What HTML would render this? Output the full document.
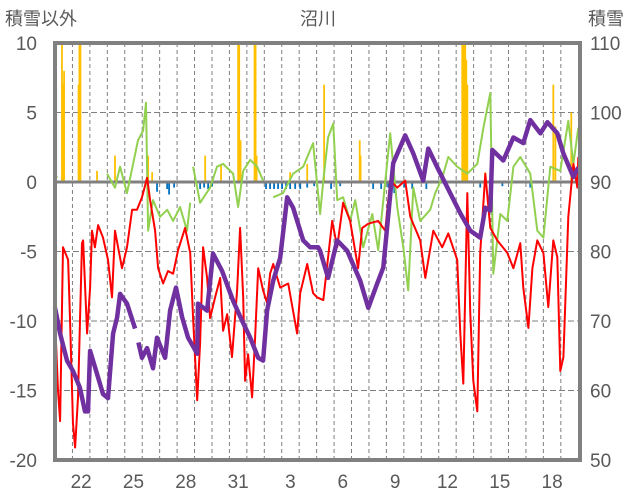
<!DOCTYPE html>
<html><head><meta charset="utf-8">
<style>
html,body{margin:0;padding:0;background:#fff;}
svg{display:block;font-family:"Liberation Sans","Noto Sans CJK JP",sans-serif;}
</style></head>
<body>
<svg id="chart" width="636" height="501" viewBox="0 0 636 501" xmlns="http://www.w3.org/2000/svg">
<text x="5" y="25" font-size="18" fill="#595959">積雪以外</text>
<text x="318" y="25" font-size="18" fill="#595959" text-anchor="middle">沼川</text>
<text x="588" y="25" font-size="18" fill="#595959">積雪</text>
<g id="grid"></g>
<g id="bars"></g>
<line id="zero" stroke="#808080" stroke-width="3"/>
<g id="lines"></g>
<rect x="55" y="43" width="525" height="417" fill="none" stroke="#808080" stroke-width="4"/>
<g id="axes"></g>
</svg>
<script>
const dayLabels = ["22","25","28","31","3","6","9","12","15","18"];
const dayLabelIdx = [1,4,7,10,13,16,19,22,25,28];
const leftTicks = [10,5,0,-5,-10,-15,-20];
const rightTicks = [110,100,90,80,70,60,50];

const redT = [0,0.17,0.29,0.46,0.75,0.86,1.03,1.15,1.32,1.55,1.61,1.84,2.01,2.12,2.29,2.47,2.75,3.04,3.27,3.44,3.84,4.13,4.42,4.70,4.99,5.28,5.45,5.74,5.91,6.20,6.48,6.77,7.06,7.46,7.75,7.92,8.15,8.32,8.49,8.72,8.89,9.18,9.47,9.64,9.87,10.15,10.44,10.61,10.79,10.90,11.07,11.30,11.47,11.65,11.93,12.16,12.33,12.51,12.91,13.37,13.88,14.06,14.46,14.80,15.03,15.38,15.89,16.18,16.52,16.92,17.38,17.61,17.96,18.53,18.93,19.22,19.62,20.08,20.37,20.94,21.23,21.69,22.20,22.55,23.06,23.24,23.41,23.64,23.81,23.98,24.21,24.38,24.67,24.96,25.36,25.93,26.28,26.68,26.85,27.14,27.37,27.65,28.00,28.28,28.57,28.80,28.97,29.15,29.43,29.72,29.95,30.0];
const redV = [-9.8,-15.0,-17.2,-4.7,-5.6,-9.8,-17.4,-19.1,-15.5,-4.4,-4.2,-10.9,-7.6,-3.5,-4.7,-3.1,-4.0,-5.6,-8.3,-3.5,-6.2,-4.7,-2.0,-2.0,-1.1,0.3,-1.3,-3.5,-6.2,-7.3,-6.4,-6.6,-4.9,-3.3,-5.1,-9.8,-15.7,-11.6,-4.7,-6.9,-9.8,-8.3,-6.9,-10.7,-9.5,-12.6,-7.8,-3.3,-8.3,-14.3,-12.4,-15.5,-11.2,-6.2,-7.8,-8.7,-6.6,-5.9,-7.6,-7.3,-10.9,-8.0,-5.9,-8.0,-8.3,-8.5,-2.8,-4.7,-1.5,-2.8,-6.2,-3.3,-3.0,-2.8,-3.5,0.1,-0.4,0.1,-2.5,-4.2,-6.9,-3.5,-4.7,-3.7,-5.6,-10.9,-14.5,-0.8,-9.5,-14.3,-16.5,-5.1,0.6,-3.3,-4.2,-5.1,-6.2,-4.4,-7.6,-10.5,-6.2,-4.2,-5.1,-9.0,-4.2,-5.4,-13.6,-12.6,-2.5,1.3,-0.4,1.8];

const greenT = [0,0.12,2.58,2.98,3.44,3.73,4.13,4.48,4.76,5.05,5.22,5.34,5.62,6.02,6.43,6.77,7.17,7.57,7.75,7.85,7.92,8.32,8.89,9.29,9.64,10.21,10.50,10.79,11.19,11.59,11.93,12.2,12.51,13.08,13.65,14.23,14.80,15.20,15.38,15.66,15.95,16.18,16.52,16.92,17.21,17.67,18.19,18.53,19.22,19.62,19.97,20.25,20.54,20.94,21.51,21.80,22.20,22.55,23.06,23.64,24.21,24.56,24.96,25.13,25.53,25.93,26.28,26.68,27.25,27.65,28.00,28.40,28.97,29.43,29.72,30.0];
const greenV = [0.6,0.3,null,0.6,-0.4,1.1,-0.8,1.3,3.0,3.7,5.7,-3.5,-1.3,-2.5,-2.0,-2.8,-1.8,-3.5,-1.5,null,1.1,-1.5,-0.4,1.1,1.3,0.6,-1.8,0.8,1.6,1.1,0.1,null,-1.1,-0.8,0.6,1.1,2.8,-2.3,0.1,3.2,4.2,-1.3,-1.1,-2.8,-1.3,-4.7,-2.3,-4.9,3.5,-1.8,-4.7,-7.8,-0.4,-2.8,-2.0,-0.8,0.3,1.8,1.1,0.6,1.3,3.9,6.4,-6.6,-2.3,-2.8,1.1,1.8,0.6,-3.5,-4.0,1.1,0.8,4.4,1.3,3.9];
greenT.splice(2,0); // keep arrays aligned

const snowT = [0,0.29,0.69,1.03,1.43,1.72,1.89,2.01,2.41,2.75,3.04,3.33,3.56,3.73,4.13,4.59,4.68,4.78,4.99,5.28,5.62,5.85,6.31,6.60,6.94,7.29,7.63,8.15,8.20,8.72,9.06,9.58,10.21,10.73,11.19,11.65,11.93,12.16,12.51,12.91,13.31,13.65,14.23,14.63,15.09,15.20,15.66,16.18,16.75,17.50,17.96,18.47,18.82,19.39,20.08,20.54,21.11,21.40,21.92,22.66,23.24,23.81,24.38,24.67,24.96,25.07,25.70,26.28,26.85,27.25,27.83,28.23,28.80,29.15,29.72,30.0];
const snowV = [71.9,68.2,64.3,62.8,60.4,57.0,57.0,65.7,62.4,59.5,58.9,68.2,70.5,73.9,72.5,68.9,null,66.9,64.7,66.1,63.2,67.6,64.7,71.5,74.8,70.5,67.6,65.3,72.5,71.5,79.7,77.2,72.9,70.0,67.6,64.7,64.3,71.5,75.8,79.1,87.8,86.3,81.6,80.6,80.6,80.1,76.2,81.6,80.1,75.8,71.9,75.4,77.7,92.7,96.7,94.1,90.2,94.8,92.1,88.4,85.5,83.0,82.0,86.3,85.9,94.6,93.1,96.4,95.6,98.9,97.0,98.6,97.0,94.1,90.7,92.1];

const orangeT = [0.40,0.46,0.52,1.35,1.40,1.46,2.41,3.44,5.34,5.57,8.61,9.52,10.50,10.56,10.64,11.44,11.50,11.56,13.48,14.46,15.43,17.47,17.52,23.35,23.41,23.47,23.52,23.58,23.64,24.67,28.57,28.69,29.60];
const orangeV = [10.5,7.0,8.0,7.0,10.5,10.5,0.8,1.9,1.9,0.7,1.9,1.3,10.5,10.5,3.0,10.5,10.5,1.9,0.7,1.3,7.0,3.0,1.9,10.5,10.5,10.5,10.5,8.8,7.0,0.7,7.0,4.0,5.0];
const blueT = [5.34,5.85,6.43,6.54,6.83,8.32,8.55,8.78,9.01,12.10,12.33,12.56,12.79,13.02,13.25,13.48,13.77,14.06,14.46,14.86,15.83,16.35,18.24,18.70,19.10,19.45,20.02,20.48,21.29,24.38,25.65,27.25];
const blueV = [-0.5,-0.7,-0.5,-0.9,-0.4,-0.5,-0.4,-0.5,-0.3,-0.5,-0.5,-0.5,-0.5,-0.5,-0.5,-0.5,-0.5,-0.5,-0.4,-0.3,-0.5,-0.3,-0.5,-0.5,-0.4,-0.8,-0.4,-0.5,-0.5,-0.4,-0.3,-0.4];

const NS = "http://www.w3.org/2000/svg";
const X0 = 55, X1 = 580, Y0 = 43, Y1 = 460, NDAYS = 30.1;
function xs(t){ return X0 + t * (X1 - X0) / NDAYS; }
function yl(v){ return Y0 + (10 - v) * (Y1 - Y0) / 30; }
function yr(v){ return Y0 + (110 - v) * (Y1 - Y0) / 60; }
function mk(tag, attrs, parent){
  const e = document.createElementNS(NS, tag);
  for (const k in attrs) e.setAttribute(k, attrs[k]);
  parent.appendChild(e); return e;
}
const grid = document.getElementById('grid');
for (let k = 1; k < 30; k++) {
  const l = mk('line', {x1: xs(k), x2: xs(k), y1: Y0, y2: Y1, stroke: '#7f7f7f', 'stroke-width': 1, 'stroke-dasharray': '4,3'}, grid);
  
  
}
leftTicks.forEach(v => {
  if (v === 10 || v === -20 || v === 0) return;
  const l = mk('line', {x1: X0, x2: X1, y1: yl(v), y2: yl(v), stroke: '#7f7f7f', 'stroke-width': 1, 'stroke-dasharray': '6,3'}, grid);
  
  
});
const z = document.getElementById('zero');
z.setAttribute('x1', X0); z.setAttribute('x2', X1); z.setAttribute('y1', yl(0)); z.setAttribute('y2', yl(0));

const bars = document.getElementById('bars');
function clampY(y){ return Math.max(Y0, Math.min(Y1, y)); }
orangeT.forEach((t, i) => {
  const y = clampY(yl(orangeV[i]));
  const r = mk('rect', {x: xs(t) - 0.9, y: y, width: 1.8, height: yl(0) - y, fill: '#ffc000'}, bars);
  
  
});
blueT.forEach((t, i) => {
  const y = yl(blueV[i]);
  const r = mk('rect', {x: xs(t) - 0.9, y: yl(0), width: 1.8, height: y - yl(0), fill: '#0070c0'}, bars);
  
  
});

const lines = document.getElementById('lines');
function path(T, V, yf){
  let d = '', pen = false;
  T.forEach((t, i) => {
    const v = V[i];
    if (v === null || v === undefined) { pen = false; return; }
    d += (pen ? 'L' : 'M') + xs(t).toFixed(1) + ',' + clampY(yf(v)).toFixed(1);
    pen = true;
  });
  return d;
}
const g = mk('path', {d: path(greenT, greenV, yl), fill: 'none', stroke: '#92d050', 'stroke-width': 2, 'stroke-linejoin': 'round'}, lines);


const r = mk('path', {d: path(redT, redV, yl), fill: 'none', stroke: '#ff0000', 'stroke-width': 2, 'stroke-linejoin': 'round'}, lines);


const p = mk('path', {d: path(snowT, snowV, yr), fill: 'none', stroke: '#7030a0', 'stroke-width': 4.5, 'stroke-linejoin': 'round'}, lines);



const axes = document.getElementById('axes');
leftTicks.forEach(v => {
  const t = mk('text', {x: 37, y: yl(v) + 7, 'font-size': 19, fill: '#595959', 'text-anchor': 'end'}, axes);
  t.textContent = v;
  
  
});
rightTicks.forEach(v => {
  const t = mk('text', {x: 590, y: yr(v) + 7, 'font-size': 19, fill: '#595959'}, axes);
  t.textContent = v;
  
  
});
dayLabels.forEach((s, i) => {
  const t = mk('text', {x: xs(dayLabelIdx[i] + 0.5), y: 488, 'font-size': 19, fill: '#595959', 'text-anchor': 'middle'}, axes);
  t.textContent = s;
  
  
});
</script>
</body></html>
